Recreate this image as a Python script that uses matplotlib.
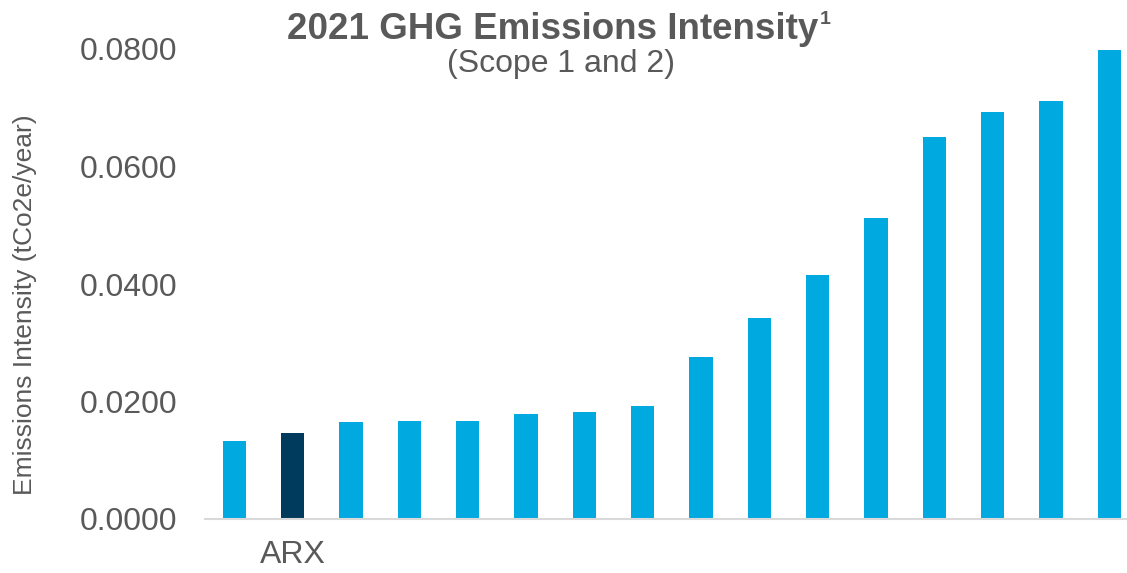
import numpy as np
from matplotlib import pyplot as plt

# values (tCO2e/year)
intensity = [0.01333, 0.01464, 0.01651, 0.01661, 0.01673, 0.01787, 0.01815, 0.01917,
             0.02757, 0.03426, 0.04158, 0.05128, 0.06496, 0.06933, 0.07115, 0.07990]
labels = ['', 'ARX', '', '', '', '', '', '', '', '', '', '', '', '', '', '']
highlight = 'ARX'
y_ticks = [0.0, 0.02, 0.04, 0.06, 0.08]

LIGHT_BLUE = '#00A9E0'
DARK_BLUE = '#003A5D'
GREY_TEXT = '#595959'


def main():
    plt.rcParams['font.family'] = ['Liberation Sans', 'DejaVu Sans']

    fig = plt.figure(figsize=(11.27, 5.73), dpi=100)
    ax = fig.add_axes([205 / 1127, 54 / 573, 922 / 1127, 470 / 573])

    x = np.arange(len(intensity))
    colors = [DARK_BLUE if lab == highlight else LIGHT_BLUE for lab in labels]
    ax.bar(x, intensity, width=0.4, color=colors, zorder=2)

    ax.set_xlim(-0.5, 15.3)
    ax.set_ylim(0, 0.08)
    ax.set_yticks(y_ticks)
    ax.set_yticklabels([f'{v:.4f}' for v in y_ticks])
    ax.set_xticks(x)
    ax.set_xticklabels(labels)
    ax.tick_params(axis='both', length=0, labelsize=23, labelcolor=GREY_TEXT)
    ax.tick_params(axis='y', pad=20)
    ax.tick_params(axis='x', pad=15)

    for side in ['top', 'right', 'left']:
        ax.spines[side].set_visible(False)
    ax.spines['bottom'].set_color('#D9D9D9')
    ax.spines['bottom'].set_linewidth(1.5)

    # title with small superscript footnote mark
    title = fig.text(553 / 1127, 1 - 39 / 573, '2021 GHG Emissions Intensity',
                     ha='center', va='baseline', fontsize=26.5, fontweight='bold', color=GREY_TEXT)
    fig.canvas.draw()
    bb = title.get_window_extent().transformed(fig.transFigure.inverted())
    fig.text(bb.x1 + 1 / 1127, 1 - 24 / 573, '1', ha='left', va='baseline',
             fontsize=14, fontweight='bold', color=GREY_TEXT)

    fig.text(561 / 1127, 1 - 72 / 573, '(Scope 1 and 2)',
             ha='center', va='baseline', fontsize=23, color=GREY_TEXT)
    fig.text(25 / 1127, 1 - 305 / 573, 'Emissions Intensity (tCo2e/year)',
             ha='center', va='center', rotation=90, fontsize=19, color=GREY_TEXT)

    fig.savefig('out.png', dpi=100)


if __name__ == '__main__':
    main()
